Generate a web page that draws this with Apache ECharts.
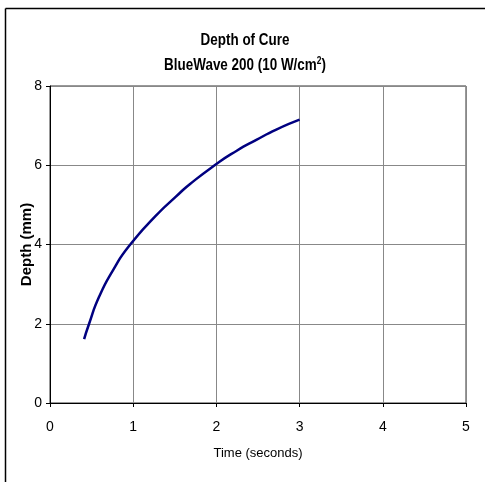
<!DOCTYPE html>
<html>
<head>
<meta charset="utf-8">
<script src="https://cdn.jsdelivr.net/npm/echarts@6/dist/echarts.min.js"></script>
<style>html,body{margin:0;padding:0;background:#fff}#c{width:485px;height:482px}</style>
</head>
<body>
<div id="c"></div>
<script>
const timeSeconds = [0.41, 0.47, 0.59, 0.76, 0.95, 1.27, 1.51, 1.68, 2.0, 2.24, 2.48, 2.72, 3.0];
const depthMm = [1.61, 2.0, 2.68, 3.36, 3.96, 4.72, 5.2, 5.52, 6.03, 6.36, 6.64, 6.9, 7.15];
const titleLine1 = 'Depth of Cure';
const titleLine2 = 'BlueWave 200 (10 W/cm';
const xAxisName = 'Time (seconds)';
const yAxisName = 'Depth (mm)';

const chart = echarts.init(document.getElementById('c'), null, {renderer: 'canvas'});
const fontFam = '"Liberation Sans", Arial, sans-serif';
chart.setOption({
  animation: false,
  backgroundColor: '#fff',
  graphic: [
    {type: 'line', shape: {x1: 5.5, y1: 8.5, x2: 485, y2: 8.5}, style: {stroke: '#000', lineWidth: 1.5}},
    {type: 'line', shape: {x1: 5.5, y1: 8.5, x2: 5.5, y2: 482}, style: {stroke: '#000', lineWidth: 1.5}},
    {type: 'text', x: 245, y: 41, scaleX: 0.84,
      style: {text: titleLine1, font: 'bold 16px ' + fontFam, fill: '#000', align: 'center', verticalAlign: 'middle'}},
    {type: 'text', x: 245, y: 66, scaleX: 0.84,
      style: {align: 'center', verticalAlign: 'middle',
        rich: {a: {font: 'bold 16px ' + fontFam, fill: '#000'}, s: {font: 'bold 10px ' + fontFam, fill: '#000', verticalAlign: 'top', padding: [0, 0, 9, 0]}},
        text: '{a|' + titleLine2 + '}{s|2}{a|)}'}}
  ],
  grid: {left: 50, right: 19, top: 86, bottom: 79, show: true, borderColor: '#333', borderWidth: 1},
  xAxis: {
    type: 'value', min: 0, max: 5, interval: 1,
    name: xAxisName, nameLocation: 'middle', nameGap: 44, nameMoveOverlap: false,
    nameTextStyle: {fontFamily: fontFam, fontSize: 13, color: '#000'},
    axisLine: {show: true, lineStyle: {color: '#000', width: 1}},
    axisTick: {show: true, length: 4, lineStyle: {color: '#000'}},
    axisLabel: {fontFamily: fontFam, fontSize: 14, color: '#000', margin: 17},
    splitLine: {show: true, lineStyle: {color: '#888', width: 1}}
  },
  yAxis: {
    type: 'value', min: 0, max: 8, interval: 2,
    name: yAxisName, nameLocation: 'middle', nameGap: 16, nameMoveOverlap: false,
    nameTextStyle: {fontFamily: fontFam, fontSize: 15, fontWeight: 'bold', color: '#000'},
    axisLine: {show: true, lineStyle: {color: '#000', width: 1}},
    axisTick: {show: true, length: 4, lineStyle: {color: '#000'}},
    axisLabel: {fontFamily: fontFam, fontSize: 14, color: '#000', margin: 8},
    splitLine: {show: true, lineStyle: {color: '#888', width: 1}}
  },
  series: [{
    type: 'line', smooth: 0.6, showSymbol: false,
    data: timeSeconds.map((t, i) => [t, depthMm[i]]),
    lineStyle: {color: '#000080', width: 2.5}
  }]
});
</script>
</body>
</html>
